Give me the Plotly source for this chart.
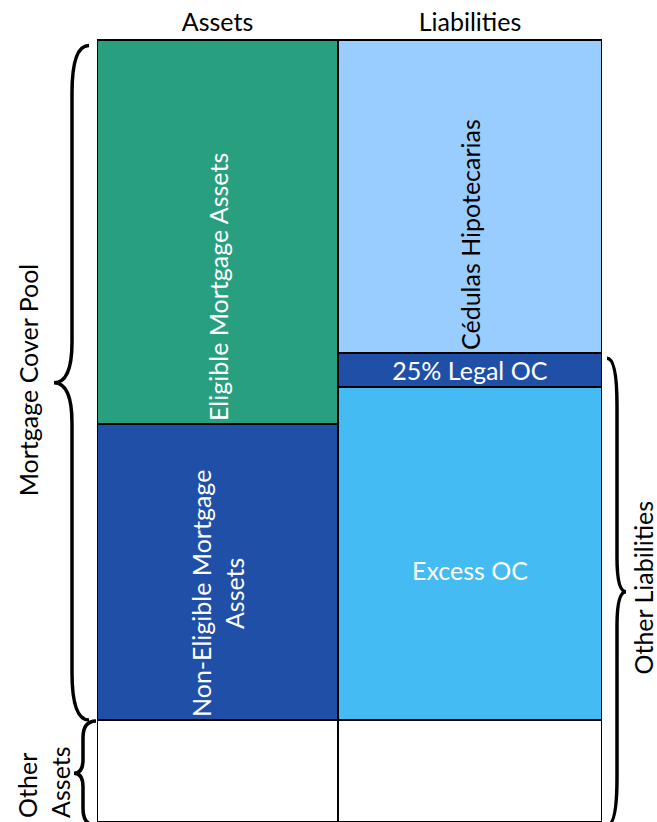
import plotly.graph_objects as go

# ---------------- data ----------------
columns = ["Assets", "Liabilities"]

asset_segments = ["Other Assets", "Non-Eligible Mortgage<br>Assets", "Eligible Mortgage Assets"]
asset_values = [30, 87, 113]

liab_segments = ["Other Liabilities", "Excess OC", "25% Legal OC", "Cédulas Hipotecarias"]
liab_values = [30, 98, 10, 92]

brace_labels = ["Mortgage Cover Pool", "Other<br>Assets", "Other Liabilities"]

# ---------------- styling / layout constants ----------------
W, H = 657, 822
ML, MR, MT, MB = 97, 55, 37, 0
PLOT_W = W - ML - MR
Y_MAX = 231
FONT = "Lato, 'Open Sans', sans-serif"
FS = 25

col_centers = [120.5, 373]
col_widths = [241, 264]

asset_colors = ["white", "#1F4FA6", "#28A07F"]
asset_text_colors = ["black", "white", "white"]
asset_angles = [0, -90, -90]
asset_anchor = ["middle", "start", "start"]
asset_texts = ["", asset_segments[1], asset_segments[2]]

liab_colors = ["white", "#44BBF2", "#1F4FA6", "#99CCFF"]
liab_text_colors = ["black", "white", "white", "black"]
liab_angles = [0, 0, 0, -90]
liab_anchor = ["middle", "middle", "middle", "start"]
liab_texts = ["", "", liab_segments[2], liab_segments[3]]

fig = go.Figure()


def add_segment(xc, w, val, color, text, tcolor, angle, anchor, name):
    fig.add_trace(go.Bar(
        x=[xc], y=[val], width=[w], name=name,
        marker=dict(color=color, line=dict(color="black", width=2)),
        text=[text], textposition="inside", insidetextanchor=anchor,
        textangle=angle, constraintext="none",
        textfont=dict(color=tcolor, size=FS, family=FONT),
        hoverinfo="skip", showlegend=False,
    ))


for i in range(len(asset_values)):
    add_segment(col_centers[0], col_widths[0], asset_values[i], asset_colors[i],
                asset_texts[i], asset_text_colors[i], asset_angles[i], asset_anchor[i],
                asset_segments[i])
for i in range(len(liab_values)):
    add_segment(col_centers[1], col_widths[1], liab_values[i], liab_colors[i],
                liab_texts[i], liab_text_colors[i], liab_angles[i], liab_anchor[i],
                liab_segments[i])

# cumulative boundaries (data units)
a_cum = [0]
for v in asset_values:
    a_cum.append(a_cum[-1] + v)
l_cum = [0]
for v in liab_values:
    l_cum.append(l_cum[-1] + v)

# Excess OC label (slightly below centre of its segment)
fig.add_annotation(x=col_centers[1], y=l_cum[1] + liab_values[1] * 0.45,
                   xref="x", yref="y", text=liab_segments[1], showarrow=False,
                   xanchor="center", yanchor="middle",
                   font=dict(color="white", size=FS, family=FONT))


def px2paper(px):
    return (px - ML) / PLOT_W


def brace(x_tip, x_spine, x_point, y_top, y_bot, r_end, r_mid):
    xt, xs, xp = px2paper(x_tip), px2paper(x_spine), px2paper(x_point)
    ym = (y_top + y_bot) / 2
    return (f"M {xt},{y_top} Q {xs},{y_top} {xs},{y_top - r_end} "
            f"L {xs},{ym + r_mid} Q {xs},{ym} {xp},{ym} "
            f"Q {xs},{ym} {xs},{ym - r_mid} "
            f"L {xs},{y_bot + r_end} Q {xs},{y_bot} {xt},{y_bot}")


brace_line = dict(color="black", width=3.5)
# Mortgage cover pool brace
fig.add_shape(type="path", xref="paper", yref="y", line=brace_line,
              path=brace(89, 72, 54, a_cum[3] - 1.5, a_cum[1], 14, 12))
# Other assets brace
fig.add_shape(type="path", xref="paper", yref="y", line=brace_line,
              path=brace(96, 83, 74, a_cum[1] - 0.3, a_cum[0] - 1, 5, 4))
# Other liabilities brace
fig.add_shape(type="path", xref="paper", yref="y", line=brace_line,
              path=brace(607, 617, 626, l_cum[3] - 1.5, l_cum[0] - 1, 14, 10))

lab_font = dict(color="black", size=FS, family=FONT)
fig.add_annotation(x=px2paper(28), y=(a_cum[1] + a_cum[3]) / 2, xref="paper", yref="y",
                   text=brace_labels[0], textangle=-90, showarrow=False, font=lab_font,
                   xanchor="center", yanchor="middle")
fig.add_annotation(x=px2paper(44), y=a_cum[1] / 2 - 3.5, xref="paper", yref="y",
                   text=brace_labels[1], textangle=-90, showarrow=False, font=lab_font,
                   align="left", xanchor="center", yanchor="middle")
fig.add_annotation(x=px2paper(643), y=(l_cum[0] + l_cum[3]) / 2, xref="paper", yref="y",
                   text=brace_labels[2], textangle=-90, showarrow=False, font=lab_font,
                   xanchor="center", yanchor="middle")

fig.update_layout(
    width=W, height=H, barmode="stack", bargap=0,
    margin=dict(l=ML, r=MR, t=MT, b=MB, pad=0),
    paper_bgcolor="white", plot_bgcolor="white",
    font=dict(family=FONT, color="black"),
    xaxis=dict(range=[0, PLOT_W], side="top", tickvals=col_centers, ticktext=columns,
               showgrid=False, zeroline=False, showline=False, ticks="",
               tickfont=dict(size=FS, color="black", family=FONT), fixedrange=True),
    yaxis=dict(range=[0, Y_MAX], showgrid=False, zeroline=False, showline=False,
               showticklabels=False, ticks="", fixedrange=True),
)

fig.write_html("out.html")
